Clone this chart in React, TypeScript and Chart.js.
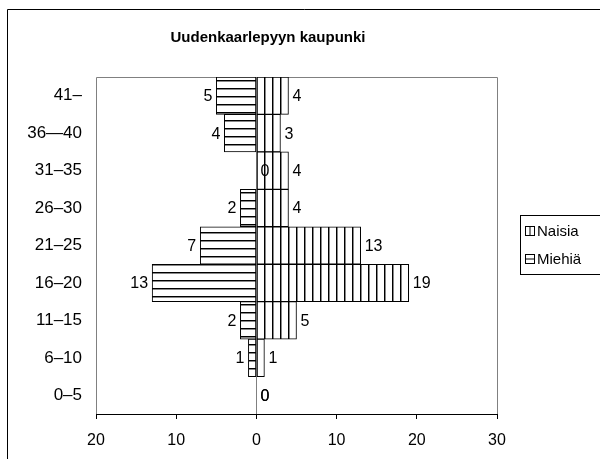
import React, { useEffect, useRef } from "react";
import { Chart, registerables } from "chart.js";

Chart.register(...registerables);

const categories = ["41–", "36—40", "31–35", "26–30", "21–25", "16–20", "11–15", "6–10", "0–5"];
const naisia = [4, 3, 4, 4, 13, 19, 5, 1, 0];
const miehia = [5, 4, 0, 2, 7, 13, 2, 1, 0];
const xTicks = [-20, -10, 0, 10, 20, 30];
const titleText = "Uudenkaarlepyyn kaupunki";
const seriesNames = ["Naisia", "Miehiä"];

const FONT = "'Liberation Sans', Arial, sans-serif";

function makePattern(vertical: boolean): CanvasPattern | string {
  const c = document.createElement("canvas");
  c.width = 8;
  c.height = 8;
  const g = c.getContext("2d");
  if (!g) return "#fff";
  g.fillStyle = "#fff";
  g.fillRect(0, 0, 8, 8);
  g.fillStyle = "#000";
  if (vertical) g.fillRect(0, 0, 1, 8);
  else g.fillRect(0, 0, 8, 1);
  g.fillStyle = "#888";
  if (vertical) g.fillRect(1, 0, 1, 8);
  else g.fillRect(0, 1, 8, 1);
  const ctx = document.createElement("canvas").getContext("2d");
  const p = ctx ? ctx.createPattern(c, "repeat") : null;
  return p || "#fff";
}

export default function App() {
  const ref = useRef<HTMLCanvasElement | null>(null);

  useEffect(() => {
    if (!ref.current) return;
    const vPat = makePattern(true);
    const hPat = makePattern(false);

    const framePlugin = {
      id: "frame",
      beforeDatasetsDraw(chart: any) {
        const { ctx, chartArea } = chart;
        const xs = chart.scales.x;
        ctx.save();
        ctx.strokeStyle = "#808080";
        ctx.lineWidth = 1;
        ctx.beginPath();
        ctx.moveTo(Math.round(chartArea.left) + 0.5, Math.round(chartArea.bottom));
        ctx.lineTo(Math.round(chartArea.left) + 0.5, Math.round(chartArea.top) + 0.5);
        ctx.lineTo(Math.round(chartArea.right) + 0.5, Math.round(chartArea.top) + 0.5);
        ctx.lineTo(Math.round(chartArea.right) + 0.5, Math.round(chartArea.bottom));
        ctx.stroke();
        const zx = Math.round(xs.getPixelForValue(0)) + 0.5;
        ctx.beginPath();
        ctx.moveTo(zx, chartArea.top);
        ctx.lineTo(zx, chartArea.bottom);
        ctx.stroke();
        ctx.restore();
      },
      afterDraw(chart: any) {
        const { ctx } = chart;
        ctx.save();
        ctx.strokeStyle = "#000";
        ctx.lineWidth = 1;
        ctx.beginPath();
        ctx.moveTo(7.5, 470);
        ctx.lineTo(7.5, 9.5);
        ctx.lineTo(610, 9.5);
        ctx.stroke();
        ctx.fillStyle = "#000";
        ctx.font = "bold 15px " + FONT;
        ctx.textAlign = "center";
        ctx.textBaseline = "middle";
        ctx.fillText(titleText, 268, 38);
        ctx.strokeRect(520.5, 215.5, 100, 59);
        const items = [
          { name: seriesNames[0], vertical: true, y: 231 },
          { name: seriesNames[1], vertical: false, y: 259 },
        ];
        ctx.font = "15px " + FONT;
        ctx.textAlign = "left";
        items.forEach((it) => {
          const x0 = 525.5;
          const y0 = it.y - 4.5;
          ctx.fillStyle = "#fff";
          ctx.fillRect(x0, y0, 9, 9);
          ctx.strokeRect(x0, y0, 9, 9);
          ctx.beginPath();
          if (it.vertical) {
            ctx.moveTo(x0 + 4.5, y0);
            ctx.lineTo(x0 + 4.5, y0 + 9);
          } else {
            ctx.moveTo(x0, y0 + 4.5);
            ctx.lineTo(x0 + 9, y0 + 4.5);
          }
          ctx.stroke();
          ctx.fillStyle = "#000";
          ctx.fillText(it.name, 537, it.y + 1);
        });
        ctx.restore();
      },
      afterDatasetsDraw(chart: any) {
        const { ctx } = chart;
        const zero = chart.scales.x.getPixelForValue(0);
        ctx.save();
        ctx.fillStyle = "#000";
        ctx.font = "16px " + FONT;
        ctx.textBaseline = "middle";
        chart.data.datasets.forEach((ds: any, di: number) => {
          const meta = chart.getDatasetMeta(di);
          meta.data.forEach((el: any, i: number) => {
            const raw = di === 0 ? naisia[i] : miehia[i];
            if (di === 1 && raw > 0) {
              ctx.textAlign = "right";
              ctx.fillText(String(raw), el.x - 4, el.y + 1);
            } else if (raw === 0) {
              ctx.textAlign = "left";
              ctx.fillText(String(raw), zero + 4, el.y + 1);
            } else {
              ctx.textAlign = "left";
              ctx.fillText(String(raw), el.x + 4, el.y + 1);
            }
          });
        });
        ctx.restore();
      },
    };

    const chart = new Chart(ref.current, {
      type: "bar",
      data: {
        labels: categories,
        datasets: [
          {
            label: seriesNames[0],
            data: naisia,
            backgroundColor: vPat as any,
            borderColor: "#000",
            borderWidth: 1,
            borderSkipped: false,
            barPercentage: 1,
            categoryPercentage: 1,
          },
          {
            label: seriesNames[1],
            data: miehia.map((v) => -v),
            backgroundColor: hPat as any,
            borderColor: "#000",
            borderWidth: 1,
            borderSkipped: false,
            barPercentage: 1,
            categoryPercentage: 1,
          },
        ],
      },
      options: {
        indexAxis: "y",
        responsive: false,
        animation: false,
        layout: { padding: { left: 0, top: 77, right: 103, bottom: 0 } },
        plugins: {
          legend: { display: false },
          title: { display: false },
          tooltip: { enabled: false },
        },
        scales: {
          x: {
            stacked: true,
            min: -20,
            max: 30,
            afterFit: (s: any) => {
              s.height = 45;
            },
            afterBuildTicks: (s: any) => {
              s.ticks = xTicks.map((v) => ({ value: v }));
            },
            ticks: {
              callback: (v: any) => String(Math.abs(Number(v))),
              color: "#000",
              font: { family: FONT, size: 16 },
              padding: 12,
              maxRotation: 0,
            },
            grid: {
              display: true,
              drawOnChartArea: false,
              drawTicks: true,
              tickLength: 5,
              color: "#000",
            },
            border: { display: true, color: "#000" },
          },
          y: {
            stacked: true,
            afterFit: (s: any) => {
              s.width = 96;
            },
            ticks: {
              color: "#000",
              font: { family: FONT, size: 17 },
              padding: 14,
            },
            grid: { display: false, drawTicks: false },
            border: { display: false },
          },
        },
      },
      plugins: [framePlugin],
    });
    return () => chart.destroy();
  }, []);

  return (
    <div style={{ position: "absolute", left: 0, top: 0, width: 600, height: 459, background: "#fff" }}>
      <canvas ref={ref} width={600} height={459} style={{ display: "block" }} />
    </div>
  );
}
